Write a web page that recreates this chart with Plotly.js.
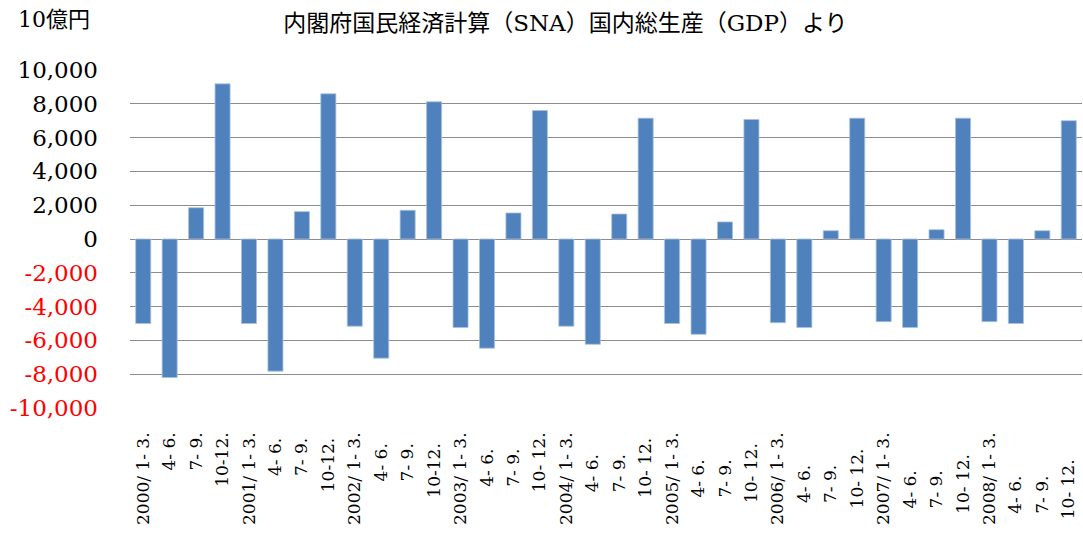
<!DOCTYPE html>
<html>
<head>
<meta charset="utf-8">
<script src="https://cdn.plot.ly/plotly-3.0.1.min.js"></script>
<style>html,body{margin:0;padding:0;background:#fff;}#chart{width:1083px;height:534px;}</style>
</head>
<body>
<div id="chart"></div>
<script>
const categories = [
  "2000/ 1- 3.", "4- 6.", "7- 9.", "10-12.",
  "2001/ 1- 3.", "4- 6. ", "7- 9. ", "10-12. ",
  "2002/ 1- 3.", "4- 6.  ", "7- 9.  ", "10-12.  ",
  "2003/ 1- 3.", "4- 6.   ", "7- 9.   ", "10- 12.",
  "2004/ 1- 3.", "4- 6.    ", "7- 9.    ", "10- 12. ",
  "2005/ 1- 3.", "4- 6.     ", "7- 9.     ", "10- 12.  ",
  "2006/ 1- 3.", "4- 6.      ", "7- 9.      ", "10- 12.   ",
  "2007/ 1- 3.", "4- 6.       ", "7- 9.       ", "10- 12.    ",
  "2008/ 1- 3.", "4- 6.        ", "7- 9.        ", "10- 12.     "
];
const values = [
  -5000, -8200, 1850, 9180,
  -5000, -7820, 1620, 8590,
  -5160, -7050, 1700, 8120,
  -5240, -6460, 1540, 7600,
  -5160, -6230, 1480, 7150,
  -5000, -5640, 1010, 7070,
  -4950, -5240, 490, 7150,
  -4890, -5240, 550, 7150,
  -4890, -5000, 490, 7000
];
const yTickVals = [10000, 8000, 6000, 4000, 2000, 0, -2000, -4000, -6000, -8000, -10000];
const yTickText = ["10,000", "8,000", "6,000", "4,000", "2,000", "0",
  "-2,000", "-4,000", "-6,000", "-8,000", "-10,000"];
const titleText = "内閣府国民経済計算（SNA）国内総生産（GDP）より";
const unitText = "10億円";

const serif = 'DejaVu Serif, Noto Sans CJK JP, serif';
const tickText = yTickText.map((t, i) => yTickVals[i] < 0 ? '<span style="color:#ff0000">' + t + '</span>' : t);

const trace = {
  type: 'bar',
  x: categories,
  y: values,
  marker: {color: '#4f81bd', line: {color: '#a9c1df', width: 0.8}},
  hoverinfo: 'x+y'
};

const layout = {
  width: 1083, height: 534,
  paper_bgcolor: '#ffffff', plot_bgcolor: '#ffffff',
  margin: {l: 130, r: 1, t: 70, b: 126},
  bargap: 0.43,
  showlegend: false,
  font: {family: serif, color: '#000000'},
  title: {
    text: titleText,
    font: {family: serif, size: 23, color: '#000000'},
    xref: 'container', yref: 'container',
    x: 0.522, xanchor: 'center', y: 1 - 23 / 534, yanchor: 'middle'
  },
  xaxis: {
    type: 'category',
    tickangle: -90,
    tickfont: {family: serif, size: 17, color: '#000000'},
    showgrid: false, zeroline: false, showline: false,
    ticks: '', ticklabelstandoff: 20,
    automargin: false
  },
  yaxis: {
    range: [-10000, 10000],
    tickvals: yTickVals,
    ticktext: tickText,
    tickfont: {family: serif, size: 23, color: '#000000'},
    showgrid: true, gridcolor: '#8c8c8c', gridwidth: 1,
    zeroline: true, zerolinecolor: '#8c8c8c', zerolinewidth: 1,
    showline: false, ticks: '', ticklabelstandoff: 31,
    automargin: false
  },
  annotations: [{
    text: unitText, xref: 'paper', yref: 'paper',
    x: (16 - 130) / 952, xanchor: 'left',
    y: 1 + 50 / 338, yanchor: 'middle',
    showarrow: false,
    font: {family: serif, size: 22, color: '#000000'}
  }]
};

Plotly.newPlot('chart', [trace], layout, {displayModeBar: false, staticPlot: true});
</script>
</body>
</html>
